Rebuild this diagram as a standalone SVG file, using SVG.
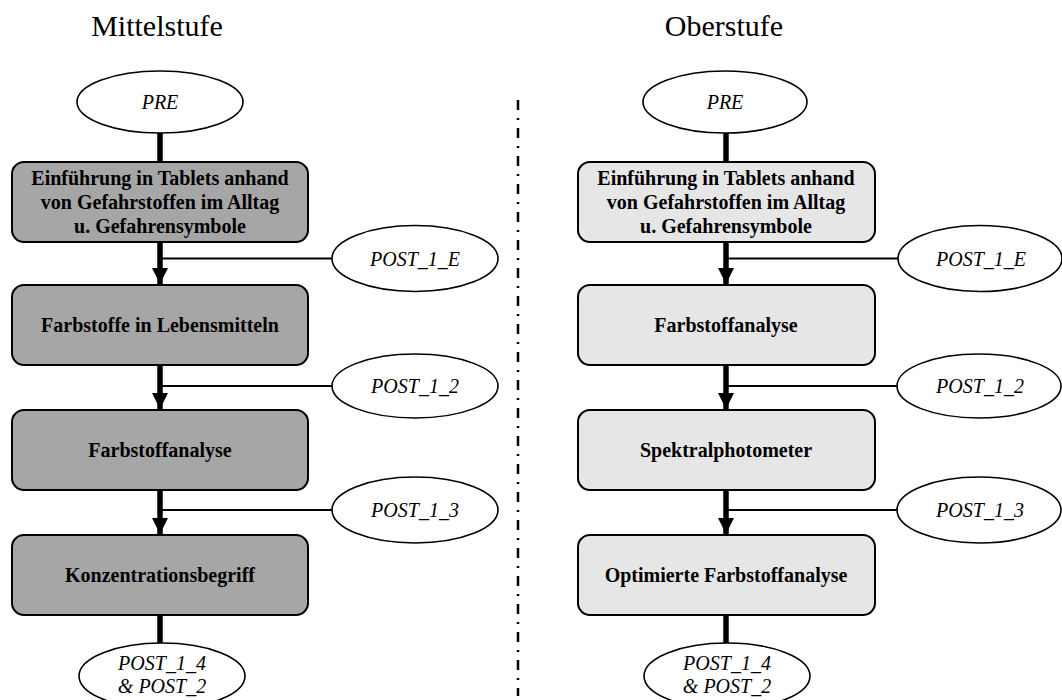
<svg xmlns="http://www.w3.org/2000/svg" width="1062" height="700" viewBox="0 0 1062 700">
  <style>
    .title { font-family: "Liberation Serif", "Times New Roman", serif; font-size: 30px; fill: #000; text-anchor: middle; }
    .step { stroke: #000; stroke-width: 2; }
    .mid { fill: #a6a6a6; }
    .ober { fill: #e6e6e6; }
    .steptxt { font-family: "Liberation Serif", "Times New Roman", serif; font-weight: bold; font-size: 20px; fill: #000; text-anchor: middle; }
    .test { fill: #fff; stroke: #000; stroke-width: 1.6; }
    .testtxt { font-family: "Liberation Serif", "Times New Roman", serif; font-style: italic; font-size: 20px; fill: #000; text-anchor: middle; }
    .flow { stroke: #000; stroke-width: 5.5; fill: none; }
    .branch { stroke: #000; stroke-width: 1.8; fill: none; }
    .divider { stroke: #000; stroke-width: 2.5; stroke-dasharray: 10 8 2 8; fill: none; }
  </style>
  <defs>
    <marker id="head" viewBox="0 0 16 16" refX="16" refY="8" markerWidth="16" markerHeight="16" markerUnits="userSpaceOnUse" orient="auto">
      <path d="M0,0 L16,8 L0,16 Z" fill="#000"/>
    </marker>
  </defs>

  <rect width="1062" height="700" fill="#fff"/>

  <!-- column headings -->
  <text class="title" x="157" y="36">Mittelstufe</text>
  <text class="title" x="724" y="36">Oberstufe</text>

  <!-- separator between the two tracks -->
  <line class="divider" x1="518" y1="100" x2="518" y2="696"/>

  <!-- connectors -->
  <g id="connectors">
    <!-- Mittelstufe track -->
    <line class="flow" x1="160" y1="133" x2="160" y2="162"/>
    <line class="flow" x1="160" y1="242" x2="160" y2="284" marker-end="url(#head)"/>
    <line class="branch" x1="160" y1="258.5" x2="332" y2="258.5"/>
    <line class="flow" x1="160" y1="365" x2="160" y2="409" marker-end="url(#head)"/>
    <line class="branch" x1="160" y1="386" x2="332" y2="386"/>
    <line class="flow" x1="160" y1="490" x2="160" y2="534" marker-end="url(#head)"/>
    <line class="branch" x1="160" y1="510" x2="332" y2="510"/>
    <line class="flow" x1="160" y1="615" x2="160" y2="643"/>

    <!-- Oberstufe track -->
    <line class="flow" x1="726" y1="133" x2="726" y2="162"/>
    <line class="flow" x1="726" y1="242" x2="726" y2="284" marker-end="url(#head)"/>
    <line class="branch" x1="726" y1="258.5" x2="898" y2="258.5"/>
    <line class="flow" x1="726" y1="365" x2="726" y2="409" marker-end="url(#head)"/>
    <line class="branch" x1="726" y1="386" x2="897" y2="386"/>
    <line class="flow" x1="726" y1="490" x2="726" y2="534" marker-end="url(#head)"/>
    <line class="branch" x1="726" y1="510" x2="897" y2="510"/>
    <line class="flow" x1="726" y1="615" x2="726" y2="643"/>
  </g>

  <!-- Mittelstufe nodes -->
  <g id="m-pre">
    <ellipse class="test" cx="160" cy="102" rx="83" ry="31"/>
    <text class="testtxt" x="160" y="109">PRE</text>
  </g>
  <g id="m-step1">
    <rect class="step mid" x="12" y="162" width="296" height="80" rx="12"/>
    <text class="steptxt" x="160" y="185">Einführung in Tablets anhand</text>
    <text class="steptxt" x="160" y="209">von Gefahrstoffen im Alltag</text>
    <text class="steptxt" x="160" y="233">u. Gefahrensymbole</text>
  </g>
  <g id="m-post1e">
    <ellipse class="test" cx="415" cy="258.5" rx="83" ry="33"/>
    <text class="testtxt" x="415" y="265.5">POST_1_E</text>
  </g>
  <g id="m-step2">
    <rect class="step mid" x="12" y="285" width="296" height="80" rx="12"/>
    <text class="steptxt" x="160" y="332">Farbstoffe in Lebensmitteln</text>
  </g>
  <g id="m-post12">
    <ellipse class="test" cx="415" cy="386" rx="83" ry="32"/>
    <text class="testtxt" x="415" y="393">POST_1_2</text>
  </g>
  <g id="m-step3">
    <rect class="step mid" x="12" y="410" width="296" height="80" rx="12"/>
    <text class="steptxt" x="160" y="457">Farbstoffanalyse</text>
  </g>
  <g id="m-post13">
    <ellipse class="test" cx="415" cy="510" rx="83" ry="33"/>
    <text class="testtxt" x="415" y="517">POST_1_3</text>
  </g>
  <g id="m-step4">
    <rect class="step mid" x="12" y="535" width="296" height="80" rx="12"/>
    <text class="steptxt" x="160" y="582">Konzentrationsbegriff</text>
  </g>
  <g id="m-post14">
    <ellipse class="test" cx="162" cy="676" rx="83" ry="33"/>
    <text class="testtxt" x="162" y="670">POST_1_4</text>
    <text class="testtxt" x="162" y="693">&amp; POST_2</text>
  </g>

  <!-- Oberstufe nodes -->
  <g id="o-pre">
    <ellipse class="test" cx="725" cy="102" rx="82" ry="31"/>
    <text class="testtxt" x="725" y="109">PRE</text>
  </g>
  <g id="o-step1">
    <rect class="step ober" x="578" y="162" width="297" height="80" rx="12"/>
    <text class="steptxt" x="726" y="185">Einführung in Tablets anhand</text>
    <text class="steptxt" x="726" y="209">von Gefahrstoffen im Alltag</text>
    <text class="steptxt" x="726" y="233">u. Gefahrensymbole</text>
  </g>
  <g id="o-post1e">
    <ellipse class="test" cx="980" cy="258.5" rx="82" ry="33"/>
    <text class="testtxt" x="981" y="265.5">POST_1_E</text>
  </g>
  <g id="o-step2">
    <rect class="step ober" x="578" y="285" width="297" height="80" rx="12"/>
    <text class="steptxt" x="726" y="332">Farbstoffanalyse</text>
  </g>
  <g id="o-post12">
    <ellipse class="test" cx="979" cy="386" rx="82" ry="32"/>
    <text class="testtxt" x="980" y="393">POST_1_2</text>
  </g>
  <g id="o-step3">
    <rect class="step ober" x="578" y="410" width="297" height="80" rx="12"/>
    <text class="steptxt" x="726" y="457">Spektralphotometer</text>
  </g>
  <g id="o-post13">
    <ellipse class="test" cx="979" cy="510" rx="82" ry="33"/>
    <text class="testtxt" x="980" y="517">POST_1_3</text>
  </g>
  <g id="o-step4">
    <rect class="step ober" x="578" y="535" width="297" height="80" rx="12"/>
    <text class="steptxt" x="726" y="582">Optimierte Farbstoffanalyse</text>
  </g>
  <g id="o-post14">
    <ellipse class="test" cx="727" cy="676" rx="83" ry="33"/>
    <text class="testtxt" x="727" y="670">POST_1_4</text>
    <text class="testtxt" x="727" y="693">&amp; POST_2</text>
  </g>
</svg>
